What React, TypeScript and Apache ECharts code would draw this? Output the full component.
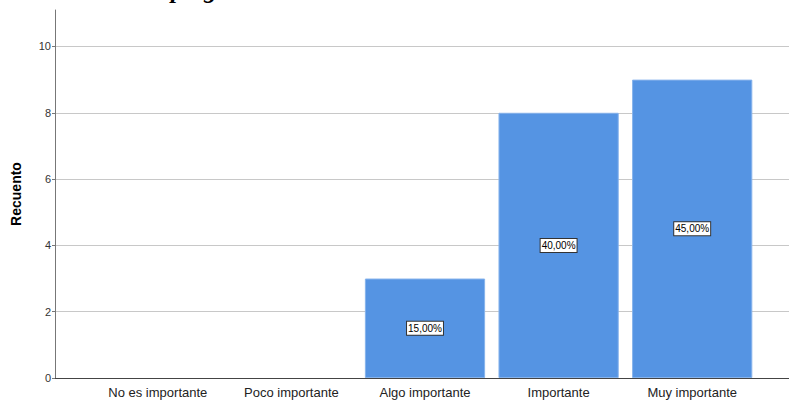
import React, { useEffect, useRef } from "react";
import * as echarts from "echarts";

const categories = ["No es importante", "Poco importante", "Algo importante", "Importante", "Muy importante"];
const counts = [0, 0, 3, 8, 9];
const percentLabels = ["0,00%", "0,00%", "15,00%", "40,00%", "45,00%"];
const yTicks = [0, 2, 4, 6, 8, 10];
const titleText = "Ubicado Camping";

export default function App() {
  const ref = useRef<HTMLDivElement>(null);
  useEffect(() => {
    if (!ref.current) return;
    const chart = echarts.init(ref.current, null, { renderer: "svg" });
    const font = "Liberation Sans, Arial, sans-serif";
    chart.setOption({
      animation: false,
      backgroundColor: "#ffffff",
      textStyle: { fontFamily: font },
      graphic: [
        {
          type: "text",
          left: 30,
          top: -23,
          style: {
            text: titleText,
            font: "bold italic 25px 'Liberation Serif', serif",
            fill: "#000",
          },
        },
      ],
      grid: [
        { left: 55, right: 0, top: 10, bottom: 22 },
        { left: 91, right: 30, top: 10, bottom: 22 },
      ],
      xAxis: [
        {
          gridIndex: 0,
          type: "value",
          min: 0,
          max: 1,
          axisLine: { show: true, lineStyle: { color: "#444", width: 1 } },
          axisTick: { show: false },
          axisLabel: { show: false },
          splitLine: { show: false },
        },
        {
          gridIndex: 1,
          type: "category",
          data: categories,
          axisLine: { show: false },
          axisTick: { show: false },
          axisLabel: { color: "#222", fontSize: 13, margin: 8, fontFamily: font, interval: 0 },
        },
      ],
      yAxis: [
        {
          gridIndex: 0,
          type: "value",
          min: yTicks[0],
          max: 11.1,
          interval: 2,
          name: "Recuento",
          nameLocation: "middle",
          nameGap: 32,
          nameTextStyle: { fontWeight: "bold", fontSize: 14, color: "#000", fontFamily: font },
          axisLine: { show: true, lineStyle: { color: "#777", width: 1 } },
          axisTick: { show: true, length: 3, lineStyle: { color: "#777" } },
          axisLabel: { color: "#333", fontSize: 11, margin: 4, showMaxLabel: false, fontFamily: font },
          splitLine: { show: true, showMaxLine: false, lineStyle: { color: "#c8c8c8", width: 1 } },
        },
        {
          gridIndex: 1,
          type: "value",
          min: 0,
          max: 11.1,
          show: false,
          splitLine: { show: false },
        },
      ],
      series: [
        {
          type: "bar",
          xAxisIndex: 1,
          yAxisIndex: 1,
          barCategoryGap: "10%",
          itemStyle: { color: "#5594e3", borderColor: "#86b3ec", borderWidth: 1 },
          data: counts.map((v) => ({
            value: v,
            label: { show: v > 0 },
            itemStyle: { borderWidth: v > 0 ? 1 : 0 },
          })),
          label: {
            show: true,
            position: "inside",
            formatter: (p: any) => percentLabels[p.dataIndex],
            backgroundColor: "#ffffff",
            borderColor: "#333",
            borderWidth: 1,
            padding: [2, 1, 1, 1],
            color: "#000",
            fontSize: 10,
            fontFamily: font,
          },
        },
      ],
    });
    return () => chart.dispose();
  }, []);
  return (
    <div
      ref={ref}
      style={{ position: "fixed", left: 0, top: 0, width: 789, height: 400 }}
    />
  );
}
